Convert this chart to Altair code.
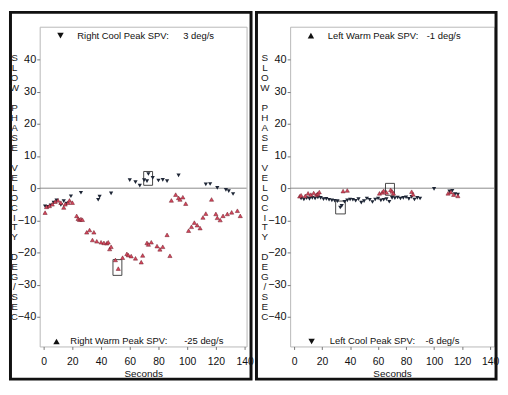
import altair as alt
import pandas as pd

# ---------------- data ----------------
seconds_ticks = [0, 20, 40, 60, 80, 100, 120, 140]
spv_ticks = [-40, -30, -20, -10, 0, 10, 20, 30, 40]
# vertical axis title, one word per block, with the line index where it starts
y_title_words = ["SLOW", "PHASE", "VELOCITY", "DEG/SEC"]
y_title_start_line = [0, 5, 11, 20]

# Left panel: right ear
rc_t = [1, 3, 5, 7, 9, 12, 14, 16, 19, 26, 38, 39, 47, 60, 64, 67, 70, 72, 73, 76, 80, 83, 86, 94, 113, 116, 121, 127, 129, 132]
rc_v = [-5.6, -5.8, -5.3, -4.5, -3.8, -5.2, -4.0, -4.8, -2.5, -1.4, -3.6, -2.6, -1.6, 2.5, 1.9, 0.8, 2.5, 2.2, 4.4, 3.2, 2.4, 2.6, 2.2, 4.0, 1.2, 1.3, 0.1, -0.5, -0.9, -1.8]
rw_t = [1, 2, 4, 6, 8, 10, 12, 14, 15, 17, 18, 20, 23, 24, 25, 26, 27, 30, 32, 34, 35, 37, 40, 42, 44, 45, 46, 47, 50, 52,
        55, 58, 59, 61, 64, 68, 69, 72, 73, 75, 79, 81, 83, 86, 88, 89, 92, 94, 95, 97, 99, 101, 103, 105, 107, 109, 111, 113,
        117, 120, 121, 123, 125, 128, 131, 135, 137]
rw_v = [-7.6, -5.8, -5.5, -5.0, -4.2, -3.8, -4.5, -6.0, -5.0, -4.5, -3.8, -4.5, -8.6, -9.5, -9.8, -9.6, -9.8, -13.7, -13.0, -16.1,
        -13.7, -16.5, -16.8, -17.0, -17.1, -16.8, -18.9, -18.2, -22.3, -25.0, -21.6, -20.4, -20.8, -21.1, -21.8, -23.0, -20.9,
        -17.0, -17.5, -16.8, -18.0, -19.0, -18.2, -14.5, -21.0, -3.8, -2.0, -3.0, -3.5, -2.8, -4.8, -13.2, -12.0, -10.7, -11.5,
        -12.4, -9.1, -7.9, -3.5, -8.0, -9.2, -9.9, -8.6, -8.0, -7.5, -7.0, -8.6]
right_box_t = [69.7, 48.3]
right_box_t2 = [75.9, 54.5]
right_box_v = [0.9, -27.1]
right_box_v2 = [5.2, -22.2]

# Right panel: left ear
lw_t = [4, 5, 8, 10, 12, 14, 16, 17, 18, 35, 38, 61, 63, 64, 66, 69, 70, 71, 84, 85, 110, 112, 114, 117]
lw_v = [-2.5, -2.2, -2.4, -1.6, -2.0, -1.5, -2.0, -1.7, -1.2, -0.9, -0.7, -1.6, -1.3, -0.8, -1.3, -0.5, -1.0, -1.6, -1.1, -1.9,
        -1.6, -1.2, -2.0, -2.4]
lc_t = [5, 7, 9, 11, 13, 15, 17, 19, 21, 23, 25, 27, 29, 31, 33, 34, 36, 38, 40, 42, 44, 46, 48, 50, 52, 54, 56, 58, 60, 62,
        64, 66, 68, 70, 72, 74, 76, 78, 80, 82, 84, 86, 88, 90, 100, 111, 113, 115, 117]
lc_v = [-3.2, -3.5, -3.1, -3.3, -3.0, -3.2, -2.9, -3.0, -3.4, -3.3, -3.6, -3.8, -3.9, -4.0, -6.0, -5.5, -4.2, -3.8, -3.5, -3.6,
        -3.9, -3.4, -4.5, -4.0, -3.2, -3.6, -4.3, -3.5, -3.2, -3.8, -3.6, -3.4, -4.2, -3.0, -3.1, -2.9, -3.2, -3.0, -2.8, -3.3,
        -2.7, -3.5, -3.0, -3.2, -0.2, -1.0, -0.8, -1.8, -2.0]
left_box_t = [29.7, 65.3]
left_box_t2 = [36.6, 71.7]
left_box_v = [-8.0, -2.2]
left_box_v2 = [-4.0, 1.5]

# ---------------- styling ----------------
FONT = "Liberation Sans"
WARM = "#d6465c"
COOL = "#1e2636"
H = 323
YDOM = [-49.2, 50.2]
FRAME_TOP, FRAME_BOTTOM = -14.5, 356
LINE_H = 10.08


def xenc(dom):
    return alt.X('t:Q', scale=alt.Scale(domain=dom, nice=False, zero=False),
                 axis=alt.Axis(values=seconds_ticks, grid=False, domain=False, tickSize=3, tickColor='#777',
                               labelFont=FONT, labelFontSize=10.5, labelColor='#111', labelPadding=7,
                               title='Seconds', titleFont=FONT, titleFontSize=10, titleFontWeight='normal',
                               titleColor='#111', titlePadding=2))


def yenc():
    return alt.Y('v:Q', scale=alt.Scale(domain=YDOM, nice=False, zero=False), title=None,
                 axis=alt.Axis(values=spv_ticks, grid=False, domain=False, tickSize=3, tickColor='#777',
                               labelFont=FONT, labelFontSize=11, labelColor='#111', labelPadding=1))


ONE = pd.DataFrame({'a': [0]})


def label(text, x, y, size=9.5):
    return alt.Chart(ONE).mark_text(align='left', baseline='middle', font=FONT, fontSize=size, color='#111').encode(
        x=alt.value(x), y=alt.value(y), text=alt.value(text))


def marker(shape, x, y):
    return alt.Chart(ONE).mark_point(shape=shape, filled=True, size=42, color='#111', opacity=1).encode(
        x=alt.value(x), y=alt.value(y))


def panel(warm_t, warm_v, cool_t, cool_v, bt, bt2, bv, bv2, top, bottom, fx1, fx2, width, xdom):
    warm = pd.DataFrame({'t': warm_t, 'v': warm_v})
    cool = pd.DataFrame({'t': cool_t, 'v': cool_v})
    boxes = pd.DataFrame({'t': bt, 't2': bt2, 'v': bv, 'v2': bv2})
    zero = pd.DataFrame({'v': [0]})

    frame = alt.Chart(ONE).mark_rect(fillOpacity=0, stroke='#111', strokeWidth=3).encode(
        x=alt.value(fx1), x2=alt.value(fx2), y=alt.value(FRAME_TOP), y2=alt.value(FRAME_BOTTOM))
    zero_rule = alt.Chart(zero).mark_rule(color='#8a8a8a', strokeWidth=1).encode(y=yenc())
    box = alt.Chart(boxes).mark_rect(fillOpacity=0, stroke='#333', strokeWidth=0.9).encode(
        x=xenc(xdom), x2='t2:Q', y=yenc(), y2='v2:Q')
    cool_pts = alt.Chart(cool).mark_point(shape='triangle-down', filled=True, size=18, color=COOL,
                                          opacity=1).encode(x=xenc(xdom), y=yenc())
    warm_pts = alt.Chart(warm).mark_point(shape='triangle-up', filled=True, size=18, color=WARM, opacity=1,
                                          stroke='#6a1c28', strokeWidth=0.5).encode(x=xenc(xdom), y=yenc())
    layers = [frame, zero_rule, box, cool_pts, warm_pts]
    for word, line in zip(y_title_words, y_title_start_line):
        layers.append(alt.Chart(ONE).mark_text(align='center', baseline='top', font=FONT, fontSize=10,
                                               lineHeight=LINE_H, color='#222').encode(
            x=alt.value(-25.5), y=alt.value(26.5 + line * LINE_H), text=alt.value(list(word))))
    for (shape, mx, txt, lx, val, vx), y in ((top, 9), (bottom, 318)):
        layers += [marker(shape, mx, y), label(txt, lx, y), label(val, vx, y)]
    return alt.layer(*layers).properties(width=width, height=H)


left = panel(rw_t, rw_v, rc_t, rc_v, right_box_t, right_box_t2, right_box_v, right_box_v2,
             ('triangle-down', 21, 'Right Cool Peak SPV:', 38, '3 deg/s', 145),
             ('triangle-up', 17, 'Right Warm Peak SPV:', 31, '-25 deg/s', 146),
             -29.5, 213.5, 209, [-2.77, 141.4])
right = panel(lw_t, lw_v, lc_t, lc_v, left_box_t, left_box_t2, left_box_v, left_box_v2,
              ('triangle-up', 21, 'Left Warm Peak SPV:', 38, '-1 deg/s', 138),
              ('triangle-down', 21.7, 'Left Cool Peak SPV:', 40, '-6 deg/s', 136.7),
              -34, 208, 206, [-2.83, 142.86])

chart = alt.hconcat(left, right, spacing=0).properties(padding=0, background='white').configure_view(
    stroke='#b8b8b8', strokeWidth=1)

chart.save("out.html", embed_options={"renderer": "svg", "actions": False})
